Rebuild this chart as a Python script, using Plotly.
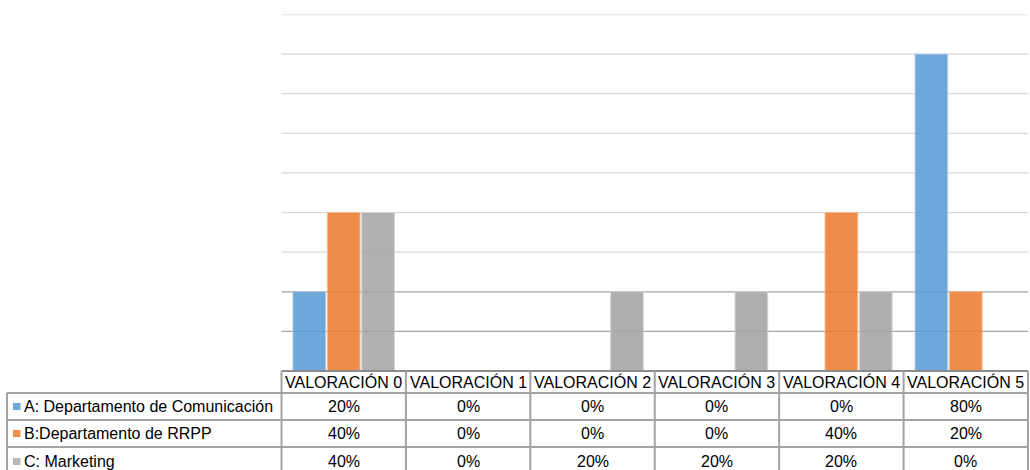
import plotly.graph_objects as go

# ---- data ----
categories = ["VALORACIÓN 0", "VALORACIÓN 1", "VALORACIÓN 2", "VALORACIÓN 3", "VALORACIÓN 4", "VALORACIÓN 5"]
series_names = ["A: Departamento de Comunicación", "B:Departamento de RRPP", "C: Marketing"]
values_a = [0.20, 0.0, 0.0, 0.0, 0.0, 0.80]
values_b = [0.40, 0.0, 0.0, 0.0, 0.40, 0.20]
values_c = [0.40, 0.0, 0.20, 0.20, 0.20, 0.0]
grid_levels = [0.1, 0.2, 0.3, 0.4, 0.5, 0.6, 0.7, 0.8, 0.9]

series_values = [values_a, values_b, values_c]
colors = ["#5b9bd5", "#ed7d31", "#a5a5a5"]
edge_colors = ["#a9c9ea", "#f6b487", "#d2d2d2"]
key_colors = ["#6fa7da", "#ef8d4a", "#b8b8b8"]

W, H = 1030, 470
def fx(px):
    return px / W
def fy(py):
    return 1 - py / H

plot_left, plot_right = 281.5, 1028
base_y, top_y = 371, 14.5
font = dict(family="Liberation Sans, Arial, sans-serif", size=16, color="#000000")
border = "#a3a3a3"

fig = go.Figure()
for name, vals, c, ec in zip(series_names, series_values, colors, edge_colors):
    fig.add_trace(go.Bar(
        x=categories, y=vals, name=name,
        marker=dict(color=c, opacity=0.88, line=dict(color=ec, width=1)),
        hoverinfo="skip",
    ))

shapes = []
# gridlines
for g in grid_levels:
    shapes.append(dict(type="line", xref="x domain", yref="y", x0=0, x1=1, y0=g, y1=g,
                       line=dict(color="#a6a6a6" if g < 0.25 else "#d9d9d9", width=1.3),
                       layer="below"))

# table geometry
col_w = (plot_right - plot_left) / len(categories)
col_edges = [plot_left + i * col_w for i in range(len(categories) + 1)]
row_edges = [371, 393, 420, 447, 476]
table_left = 7

# horizontal lines
shapes.append(dict(type="line", xref="paper", yref="paper", x0=fx(plot_left), x1=fx(plot_right),
                   y0=fy(row_edges[0]), y1=fy(row_edges[0]), line=dict(color="#8c8c8c", width=2)))
for r in row_edges[1:]:
    shapes.append(dict(type="line", xref="paper", yref="paper", x0=fx(table_left), x1=fx(plot_right),
                       y0=fy(r), y1=fy(r), line=dict(color=border, width=2)))
# vertical lines
for cx in col_edges:
    shapes.append(dict(type="line", xref="paper", yref="paper", x0=fx(cx), x1=fx(cx),
                       y0=fy(row_edges[0]), y1=fy(row_edges[-1]), line=dict(color=border, width=2)))
shapes.append(dict(type="line", xref="paper", yref="paper", x0=fx(table_left), x1=fx(table_left),
                   y0=fy(row_edges[1]), y1=fy(row_edges[-1]), line=dict(color=border, width=2)))

annotations = []
# header
for cat in categories:
    annotations.append(dict(x=cat, xref="x", y=fy((row_edges[0] + row_edges[1]) / 2), yref="paper",
                            text=cat, showarrow=False, font=font, xanchor="center", yanchor="middle"))
# rows
for i, (name, vals, kc) in enumerate(zip(series_names, series_values, key_colors)):
    yc = (row_edges[i + 1] + row_edges[i + 2]) / 2
    shapes.append(dict(type="rect", xref="paper", yref="paper", x0=fx(13), x1=fx(20.5),
                       y0=fy(yc - 3.5), y1=fy(yc + 3.5), fillcolor=kc, line=dict(width=0)))
    annotations.append(dict(x=fx(22), xref="paper", y=fy(yc), yref="paper", text=name,
                            showarrow=False, font=font, xanchor="left", yanchor="middle"))
    for cat, v in zip(categories, vals):
        annotations.append(dict(x=cat, xref="x", y=fy(yc), yref="paper", text=f"{round(v*100)}%",
                                showarrow=False, font=font, xanchor="center", yanchor="middle"))

fig.update_layout(
    width=W, height=H,
    margin=dict(l=0, r=0, t=0, b=0),
    paper_bgcolor="white", plot_bgcolor="white",
    barmode="group", bargap=0.17, bargroupgap=0.05,
    showlegend=False,
    xaxis=dict(domain=[fx(plot_left), fx(plot_right)], showticklabels=False, showgrid=False,
               zeroline=False, showline=False, ticks=""),
    yaxis=dict(domain=[fy(base_y), fy(top_y)], range=[0, 0.9], showticklabels=False,
               showgrid=False, zeroline=False, showline=False),
    shapes=shapes, annotations=annotations,
    font=font,
)

fig.write_html("out.html")
